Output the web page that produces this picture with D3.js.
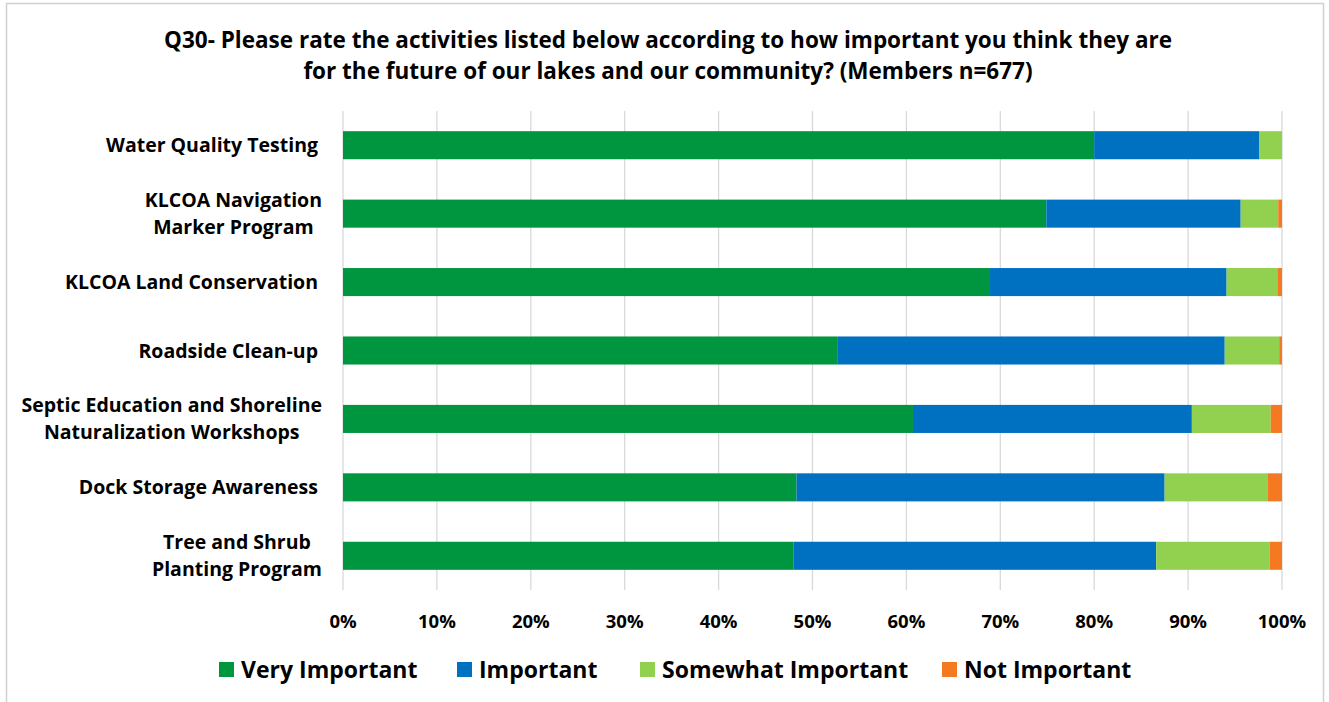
<!DOCTYPE html>
<html><head><meta charset="utf-8">
<script src="https://cdn.jsdelivr.net/npm/d3@7"></script>
<style>body{margin:0;background:#fff;} text{font-family:"Open Sans",Lato,sans-serif;font-weight:bold;fill:#000;}</style>
</head><body><svg id="c" width="1329" height="702"></svg>
<script>
const categories = [
  ["Water Quality Testing"],
  ["KLCOA Navigation","Marker Program"],
  ["KLCOA Land Conservation"],
  ["Roadside Clean-up"],
  ["Septic Education and Shoreline","Naturalization Workshops"],
  ["Dock Storage Awareness"],
  ["Tree and Shrub","Planting Program"]
];
const seriesNames = ["Very Important","Important","Somewhat Important","Not Important"];
const veryImportant = [80.0, 74.9, 68.9, 52.7, 60.7, 48.3, 48.0];
const important     = [17.6, 20.7, 25.2, 41.2, 29.7, 39.2, 38.6];
const somewhat      = [2.4, 4.0, 5.4, 5.8, 8.4, 11.0, 12.1];
const notImportant  = [0.0, 0.4, 0.5, 0.3, 1.2, 1.5, 1.3];
const tickValues = [0,10,20,30,40,50,60,70,80,90,100];
const colors = ["#00953F","#0070C0","#92D050","#F47920"];
const titleLines = ["Q30- Please rate the activities listed below according to how important you think they are",
  "for the future of our lakes and our community? (Members n=677)"];

const svg = d3.select("#c");
svg.append("rect").attr("x",6.5).attr("y",3.5).attr("width",1317).attr("height",705)
  .attr("fill","#fff").attr("stroke","#d0d0d0").attr("stroke-width",1.5);

const x = d3.scaleLinear().domain([0,100]).range([343,1282]);
const y = d3.scaleBand().domain(d3.range(categories.length)).range([111,590]).paddingInner(0.59).paddingOuter(0.295);

// gridlines
svg.append("g").selectAll("line").data(tickValues).join("line")
  .attr("x1",d=>x(d)).attr("x2",d=>x(d)).attr("y1",111).attr("y2",590)
  .attr("stroke","#d9d9d9").attr("stroke-width",1.3);

const rows = categories.map((c,i)=>({vi:veryImportant[i],im:important[i],sw:somewhat[i],ni:notImportant[i],i}));
const stack = d3.stack().keys(["vi","im","sw","ni"])(rows);
svg.append("g").selectAll("g").data(stack).join("g").attr("fill",(d,k)=>colors[k])
  .selectAll("rect").data(d=>d).join("rect")
  .attr("x",d=>x(d[0])).attr("width",d=>x(d[1])-x(d[0]))
  .attr("y",(d)=>y(d.data.i)).attr("height",y.bandwidth());

// title
svg.append("g").selectAll("text").data(titleLines).join("text")
  .attr("x",668).attr("y",(d,i)=>48+i*31).attr("text-anchor","middle")
  .style("font-size","22.5px").text(d=>d);

// category labels
const lab = svg.append("g");
categories.forEach((lines,i)=>{
  const cy = y(i)+y.bandwidth()/2;
  const g = lab.append("g");
  const n = lines.length;
  const ts = lines.map((l,j)=>g.append("text").attr("y",cy+(j-(n-1)/2)*27+7).style("font-size","19.5px").text(l));
  if(n===1){ ts[0].attr("x",318).attr("text-anchor","end"); }
  else{
    const w = d3.max(ts,t=>t.node().getComputedTextLength());
    ts.forEach(t=>t.attr("x",322-w/2).attr("text-anchor","middle"));
  }
});

// x axis labels
svg.append("g").selectAll("text").data(tickValues).join("text")
  .attr("x",d=>x(d)).attr("y",628).attr("text-anchor","middle").style("font-size","18.5px")
  .text(d=>d+"%");

// legend
const legX = [219,457,640,942];
const lg = svg.append("g").selectAll("g").data(seriesNames).join("g")
  .attr("transform",(d,i)=>`translate(${legX[i]},662)`);
lg.append("rect").attr("x",0).attr("y",0).attr("width",15).attr("height",15).attr("fill",(d,i)=>colors[i]);
lg.append("text").attr("x",22).attr("y",16).style("font-size","23px").text(d=>d);
</script></body></html>
